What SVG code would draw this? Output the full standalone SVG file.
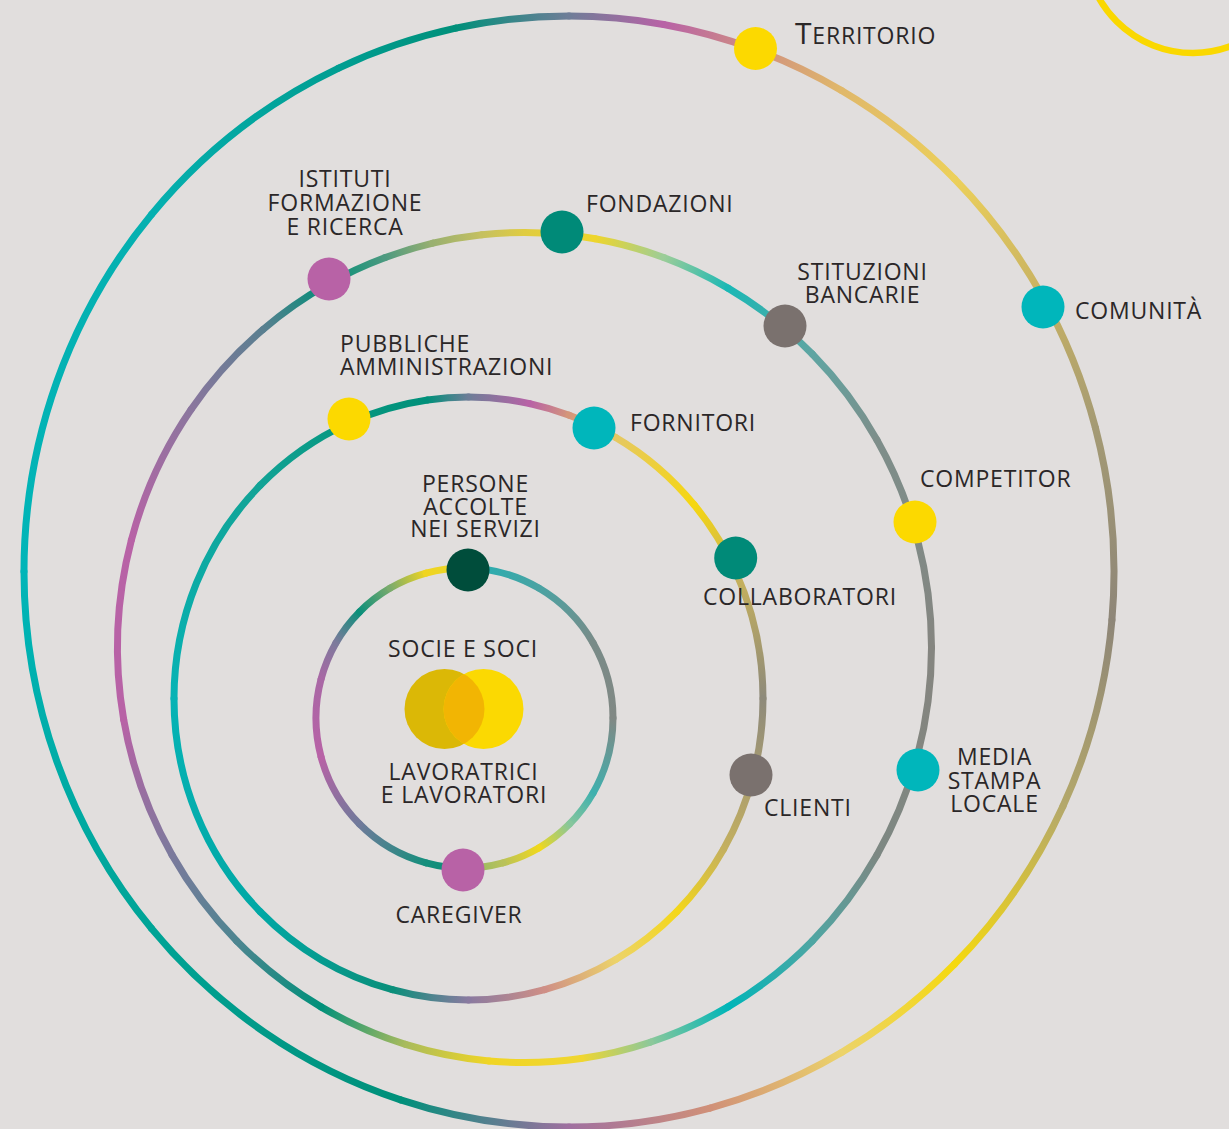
<svg xmlns="http://www.w3.org/2000/svg" width="1229" height="1129" viewBox="0 0 1229 1129">
<style>
.r path{fill:none;stroke-width:7;vector-effect:non-scaling-stroke;stroke-linecap:round}
text{font-family:"Open Sans","Noto Sans","Liberation Sans",sans-serif;font-size:23px;letter-spacing:0.8px;fill:#2b2728}
.m{text-anchor:middle}
.y{fill:#fcd900}.t{fill:#00b6bb}.g{fill:#008a78}.p{fill:#b862a6}.s{fill:#7a716e}.d{fill:#004d3b}
</style>
<defs>
<!-- ring 1 -->
<linearGradient id="a1" gradientUnits="userSpaceOnUse" x1="0" y1="-100" x2="50" y2="-86.6"><stop stop-color="#22b0b3"/><stop offset="1" stop-color="#4aa3a3"/></linearGradient>
<linearGradient id="a2" gradientUnits="userSpaceOnUse" x1="50" y1="-86.6" x2="86.6" y2="-50"><stop stop-color="#4aa3a3"/><stop offset="1" stop-color="#798b88"/></linearGradient>
<linearGradient id="a3" gradientUnits="userSpaceOnUse" x1="86.6" y1="-50" x2="100" y2="0"><stop stop-color="#798b88"/><stop offset="1" stop-color="#818884"/></linearGradient>
<linearGradient id="a4" gradientUnits="userSpaceOnUse" x1="100" y1="0" x2="86.6" y2="50"><stop stop-color="#818884"/><stop offset="1" stop-color="#3fb0ae"/></linearGradient>
<linearGradient id="a5" gradientUnits="userSpaceOnUse" x1="86.6" y1="50" x2="70.71" y2="70.71"><stop stop-color="#3fb0ae"/><stop offset="1" stop-color="#86c69c"/></linearGradient>
<linearGradient id="a6" gradientUnits="userSpaceOnUse" x1="70.71" y1="70.71" x2="50" y2="86.6"><stop stop-color="#86c69c"/><stop offset="1" stop-color="#f0d81c"/></linearGradient>
<linearGradient id="a7" gradientUnits="userSpaceOnUse" x1="50" y1="86.6" x2="25.88" y2="96.59"><stop stop-color="#f0d81c"/><stop offset="1" stop-color="#b9c25a"/></linearGradient>
<linearGradient id="a8" gradientUnits="userSpaceOnUse" x1="25.88" y1="96.59" x2="0" y2="100"><stop stop-color="#b9c25a"/><stop offset="1" stop-color="#8ab86a"/></linearGradient>
<linearGradient id="a9" gradientUnits="userSpaceOnUse" x1="0" y1="100" x2="-25.88" y2="96.59"><stop stop-color="#0a8f78"/><stop offset="1" stop-color="#148f7c"/></linearGradient>
<linearGradient id="a10" gradientUnits="userSpaceOnUse" x1="-25.88" y1="96.59" x2="-70.71" y2="70.71"><stop stop-color="#148f7c"/><stop offset="1" stop-color="#6f7a9a"/></linearGradient>
<linearGradient id="a11" gradientUnits="userSpaceOnUse" x1="-70.71" y1="70.71" x2="-96.59" y2="25.88"><stop stop-color="#6f7a9a"/><stop offset="1" stop-color="#b862a6"/></linearGradient>
<linearGradient id="a12" gradientUnits="userSpaceOnUse" x1="-96.59" y1="25.88" x2="-96.59" y2="-25.88"><stop stop-color="#b862a6"/><stop offset="1" stop-color="#a968a5"/></linearGradient>
<linearGradient id="a13" gradientUnits="userSpaceOnUse" x1="-96.59" y1="-25.88" x2="-86.6" y2="-50"><stop stop-color="#a968a5"/><stop offset="1" stop-color="#7e7a9c"/></linearGradient>
<linearGradient id="a14" gradientUnits="userSpaceOnUse" x1="-86.6" y1="-50" x2="-70.71" y2="-70.71"><stop stop-color="#7e7a9c"/><stop offset="1" stop-color="#0b8f7a"/></linearGradient>
<linearGradient id="a15" gradientUnits="userSpaceOnUse" x1="-70.71" y1="-70.71" x2="-50" y2="-86.6"><stop stop-color="#0b8f7a"/><stop offset="1" stop-color="#7aab6c"/></linearGradient>
<linearGradient id="a16" gradientUnits="userSpaceOnUse" x1="-50" y1="-86.6" x2="-25.88" y2="-96.59"><stop stop-color="#7aab6c"/><stop offset="1" stop-color="#f0d520"/></linearGradient>
<linearGradient id="a17" gradientUnits="userSpaceOnUse" x1="-25.88" y1="-96.59" x2="0" y2="-100"><stop stop-color="#f0d520"/><stop offset="1" stop-color="#e8d530"/></linearGradient>
<!-- ring 2 -->
<linearGradient id="b1" gradientUnits="userSpaceOnUse" x1="0" y1="-100" x2="20.79" y2="-97.81"><stop stop-color="#6e7d98"/><stop offset="1" stop-color="#b862a6"/></linearGradient>
<linearGradient id="b2" gradientUnits="userSpaceOnUse" x1="20.79" y1="-97.81" x2="34.2" y2="-93.97"><stop stop-color="#b862a6"/><stop offset="1" stop-color="#d4967a"/></linearGradient>
<linearGradient id="b3" gradientUnits="userSpaceOnUse" x1="34.2" y1="-93.97" x2="50" y2="-86.6"><stop stop-color="#d4967a"/><stop offset="1" stop-color="#e5c862"/></linearGradient>
<linearGradient id="b4" gradientUnits="userSpaceOnUse" x1="50" y1="-86.6" x2="76.6" y2="-64.28"><stop stop-color="#e5c862"/><stop offset="1" stop-color="#f6d70f"/></linearGradient>
<linearGradient id="b5" gradientUnits="userSpaceOnUse" x1="76.6" y1="-64.28" x2="90.63" y2="-42.26"><stop stop-color="#f6d70f"/><stop offset="1" stop-color="#c9b35a"/></linearGradient>
<linearGradient id="b6" gradientUnits="userSpaceOnUse" x1="90.63" y1="-42.26" x2="100" y2="0"><stop stop-color="#c9b35a"/><stop offset="1" stop-color="#8e8a7a"/></linearGradient>
<linearGradient id="b7" gradientUnits="userSpaceOnUse" x1="100" y1="0" x2="96.59" y2="25.88"><stop stop-color="#8e8a7a"/><stop offset="1" stop-color="#a89c70"/></linearGradient>
<linearGradient id="b8" gradientUnits="userSpaceOnUse" x1="96.59" y1="25.88" x2="86.6" y2="50"><stop stop-color="#a89c70"/><stop offset="1" stop-color="#c4b05e"/></linearGradient>
<linearGradient id="b9" gradientUnits="userSpaceOnUse" x1="86.6" y1="50" x2="70.71" y2="70.71"><stop stop-color="#c4b05e"/><stop offset="1" stop-color="#f4d71a"/></linearGradient>
<linearGradient id="b10" gradientUnits="userSpaceOnUse" x1="70.71" y1="70.71" x2="50" y2="86.6"><stop stop-color="#f4d71a"/><stop offset="1" stop-color="#ecd36a"/></linearGradient>
<linearGradient id="b11" gradientUnits="userSpaceOnUse" x1="50" y1="86.6" x2="25.88" y2="96.59"><stop stop-color="#ecd36a"/><stop offset="1" stop-color="#cf8f86"/></linearGradient>
<linearGradient id="b12" gradientUnits="userSpaceOnUse" x1="25.88" y1="96.59" x2="0" y2="100"><stop stop-color="#cf8f86"/><stop offset="1" stop-color="#8a7aa0"/></linearGradient>
<linearGradient id="b13" gradientUnits="userSpaceOnUse" x1="0" y1="100" x2="-25.88" y2="96.59"><stop stop-color="#8a7aa0"/><stop offset="1" stop-color="#0a8f7a"/></linearGradient>
<linearGradient id="b14" gradientUnits="userSpaceOnUse" x1="-25.88" y1="96.59" x2="-70.71" y2="70.71"><stop stop-color="#0a8f7a"/><stop offset="1" stop-color="#00a8a5"/></linearGradient>
<linearGradient id="b15" gradientUnits="userSpaceOnUse" x1="-70.71" y1="70.71" x2="-100" y2="0"><stop stop-color="#00a8a5"/><stop offset="1" stop-color="#06b3b5"/></linearGradient>
<linearGradient id="b16" gradientUnits="userSpaceOnUse" x1="-100" y1="0" x2="-70.71" y2="-70.71"><stop stop-color="#06b3b5"/><stop offset="1" stop-color="#12a396"/></linearGradient>
<linearGradient id="b17" gradientUnits="userSpaceOnUse" x1="-70.71" y1="-70.71" x2="-40.67" y2="-91.35"><stop stop-color="#12a396"/><stop offset="1" stop-color="#06977f"/></linearGradient>
<linearGradient id="b18" gradientUnits="userSpaceOnUse" x1="-40.67" y1="-91.35" x2="-13.92" y2="-99.03"><stop stop-color="#06977f"/><stop offset="1" stop-color="#00907a"/></linearGradient>
<linearGradient id="b19" gradientUnits="userSpaceOnUse" x1="-13.92" y1="-99.03" x2="0" y2="-100"><stop stop-color="#00907a"/><stop offset="1" stop-color="#6e7d98"/></linearGradient>
<!-- ring 3 -->
<linearGradient id="c1" gradientUnits="userSpaceOnUse" x1="0" y1="-100" x2="17.36" y2="-98.48"><stop stop-color="#e0cc40"/><stop offset="1" stop-color="#eed52c"/></linearGradient>
<linearGradient id="c2" gradientUnits="userSpaceOnUse" x1="17.36" y1="-98.48" x2="34.2" y2="-93.97"><stop stop-color="#eed52c"/><stop offset="1" stop-color="#9ccd98"/></linearGradient>
<linearGradient id="c3" gradientUnits="userSpaceOnUse" x1="34.2" y1="-93.97" x2="50" y2="-86.6"><stop stop-color="#9ccd98"/><stop offset="1" stop-color="#1ab8b5"/></linearGradient>
<linearGradient id="c4" gradientUnits="userSpaceOnUse" x1="50" y1="-86.6" x2="70.71" y2="-70.71"><stop stop-color="#1ab8b5"/><stop offset="1" stop-color="#5fa5a2"/></linearGradient>
<linearGradient id="c5" gradientUnits="userSpaceOnUse" x1="70.71" y1="-70.71" x2="86.6" y2="-50"><stop stop-color="#5fa5a2"/><stop offset="1" stop-color="#7e8e8a"/></linearGradient>
<linearGradient id="c6" gradientUnits="userSpaceOnUse" x1="86.6" y1="-50" x2="96.59" y2="-25.88"><stop stop-color="#7e8e8a"/><stop offset="1" stop-color="#808a86"/></linearGradient>
<linearGradient id="c7" gradientUnits="userSpaceOnUse" x1="96.59" y1="-25.88" x2="100" y2="0"><stop stop-color="#808a86"/><stop offset="1" stop-color="#858580"/></linearGradient>
<linearGradient id="c8" gradientUnits="userSpaceOnUse" x1="100" y1="0" x2="96.59" y2="25.88"><stop stop-color="#858580"/><stop offset="1" stop-color="#838680"/></linearGradient>
<linearGradient id="c9" gradientUnits="userSpaceOnUse" x1="96.59" y1="25.88" x2="86.6" y2="50"><stop stop-color="#838680"/><stop offset="1" stop-color="#7d8883"/></linearGradient>
<linearGradient id="c10" gradientUnits="userSpaceOnUse" x1="86.6" y1="50" x2="70.71" y2="70.71"><stop stop-color="#7d8883"/><stop offset="1" stop-color="#4fa6a3"/></linearGradient>
<linearGradient id="c11" gradientUnits="userSpaceOnUse" x1="70.71" y1="70.71" x2="50" y2="86.6"><stop stop-color="#4fa6a3"/><stop offset="1" stop-color="#00b5b8"/></linearGradient>
<linearGradient id="c12" gradientUnits="userSpaceOnUse" x1="50" y1="86.6" x2="30.9" y2="95.11"><stop stop-color="#00b5b8"/><stop offset="1" stop-color="#8cc89a"/></linearGradient>
<linearGradient id="c13" gradientUnits="userSpaceOnUse" x1="30.9" y1="95.11" x2="13.92" y2="99.03"><stop stop-color="#8cc89a"/><stop offset="1" stop-color="#f0d630"/></linearGradient>
<linearGradient id="c14" gradientUnits="userSpaceOnUse" x1="13.92" y1="99.03" x2="-8.72" y2="99.62"><stop stop-color="#f0d630"/><stop offset="1" stop-color="#f0d525"/></linearGradient>
<linearGradient id="c15" gradientUnits="userSpaceOnUse" x1="-8.72" y1="99.62" x2="-29.24" y2="95.63"><stop stop-color="#f0d525"/><stop offset="1" stop-color="#a9bb5c"/></linearGradient>
<linearGradient id="c16" gradientUnits="userSpaceOnUse" x1="-29.24" y1="95.63" x2="-50" y2="86.6"><stop stop-color="#a9bb5c"/><stop offset="1" stop-color="#00907a"/></linearGradient>
<linearGradient id="c17" gradientUnits="userSpaceOnUse" x1="-50" y1="86.6" x2="-70.71" y2="70.71"><stop stop-color="#00907a"/><stop offset="1" stop-color="#4d8590"/></linearGradient>
<linearGradient id="c18" gradientUnits="userSpaceOnUse" x1="-70.71" y1="70.71" x2="-86.6" y2="50"><stop stop-color="#4d8590"/><stop offset="1" stop-color="#7b7a9c"/></linearGradient>
<linearGradient id="c19" gradientUnits="userSpaceOnUse" x1="-86.6" y1="50" x2="-98.48" y2="17.36"><stop stop-color="#7b7a9c"/><stop offset="1" stop-color="#b862a6"/></linearGradient>
<linearGradient id="c20" gradientUnits="userSpaceOnUse" x1="-98.48" y1="17.36" x2="-96.59" y2="-25.88"><stop stop-color="#b862a6"/><stop offset="1" stop-color="#b862a6"/></linearGradient>
<linearGradient id="c21" gradientUnits="userSpaceOnUse" x1="-96.59" y1="-25.88" x2="-81.92" y2="-57.36"><stop stop-color="#b862a6"/><stop offset="1" stop-color="#8b769e"/></linearGradient>
<linearGradient id="c22" gradientUnits="userSpaceOnUse" x1="-81.92" y1="-57.36" x2="-64.28" y2="-76.6"><stop stop-color="#8b769e"/><stop offset="1" stop-color="#5a7f90"/></linearGradient>
<linearGradient id="c23" gradientUnits="userSpaceOnUse" x1="-64.28" y1="-76.6" x2="-48.48" y2="-87.46"><stop stop-color="#5a7f90"/><stop offset="1" stop-color="#008f78"/></linearGradient>
<linearGradient id="c24" gradientUnits="userSpaceOnUse" x1="-48.48" y1="-87.46" x2="-34.2" y2="-93.97"><stop stop-color="#008f78"/><stop offset="1" stop-color="#4d9a80"/></linearGradient>
<linearGradient id="c25" gradientUnits="userSpaceOnUse" x1="-34.2" y1="-93.97" x2="-22.5" y2="-97.44"><stop stop-color="#4d9a80"/><stop offset="1" stop-color="#99b070"/></linearGradient>
<linearGradient id="c26" gradientUnits="userSpaceOnUse" x1="-22.5" y1="-97.44" x2="-10.45" y2="-99.45"><stop stop-color="#99b070"/><stop offset="1" stop-color="#c5c060"/></linearGradient>
<linearGradient id="c27" gradientUnits="userSpaceOnUse" x1="-10.45" y1="-99.45" x2="0" y2="-100"><stop stop-color="#c5c060"/><stop offset="1" stop-color="#e0cc40"/></linearGradient>
<!-- ring 4 -->
<linearGradient id="d1" gradientUnits="userSpaceOnUse" x1="0" y1="-100" x2="17.36" y2="-98.48"><stop stop-color="#6f7d98"/><stop offset="1" stop-color="#b862a6"/></linearGradient>
<linearGradient id="d2" gradientUnits="userSpaceOnUse" x1="17.36" y1="-98.48" x2="34.2" y2="-93.97"><stop stop-color="#b862a6"/><stop offset="1" stop-color="#d09080"/></linearGradient>
<linearGradient id="d3" gradientUnits="userSpaceOnUse" x1="34.2" y1="-93.97" x2="50" y2="-86.6"><stop stop-color="#d09080"/><stop offset="1" stop-color="#e0b86a"/></linearGradient>
<linearGradient id="d4" gradientUnits="userSpaceOnUse" x1="50" y1="-86.6" x2="70.71" y2="-70.71"><stop stop-color="#e0b86a"/><stop offset="1" stop-color="#ecd05a"/></linearGradient>
<linearGradient id="d5" gradientUnits="userSpaceOnUse" x1="70.71" y1="-70.71" x2="86.6" y2="-50"><stop stop-color="#ecd05a"/><stop offset="1" stop-color="#c8b262"/></linearGradient>
<linearGradient id="d6" gradientUnits="userSpaceOnUse" x1="86.6" y1="-50" x2="96.59" y2="-25.88"><stop stop-color="#c8b262"/><stop offset="1" stop-color="#a49a74"/></linearGradient>
<linearGradient id="d7" gradientUnits="userSpaceOnUse" x1="96.59" y1="-25.88" x2="99.62" y2="8.72"><stop stop-color="#a49a74"/><stop offset="1" stop-color="#8e8678"/></linearGradient>
<linearGradient id="d8" gradientUnits="userSpaceOnUse" x1="99.62" y1="8.72" x2="90.63" y2="42.26"><stop stop-color="#8e8678"/><stop offset="1" stop-color="#b4a86a"/></linearGradient>
<linearGradient id="d9" gradientUnits="userSpaceOnUse" x1="90.63" y1="42.26" x2="70.71" y2="70.71"><stop stop-color="#b4a86a"/><stop offset="1" stop-color="#f5d90f"/></linearGradient>
<linearGradient id="d10" gradientUnits="userSpaceOnUse" x1="70.71" y1="70.71" x2="50" y2="86.6"><stop stop-color="#f5d90f"/><stop offset="1" stop-color="#ecd36a"/></linearGradient>
<linearGradient id="d11" gradientUnits="userSpaceOnUse" x1="50" y1="86.6" x2="25.88" y2="96.59"><stop stop-color="#ecd36a"/><stop offset="1" stop-color="#d09078"/></linearGradient>
<linearGradient id="d12" gradientUnits="userSpaceOnUse" x1="25.88" y1="96.59" x2="0" y2="100"><stop stop-color="#d09078"/><stop offset="1" stop-color="#a070a0"/></linearGradient>
<linearGradient id="d13" gradientUnits="userSpaceOnUse" x1="0" y1="100" x2="-30.9" y2="95.11"><stop stop-color="#a070a0"/><stop offset="1" stop-color="#00907a"/></linearGradient>
<linearGradient id="d14" gradientUnits="userSpaceOnUse" x1="-30.9" y1="95.11" x2="-76.6" y2="64.28"><stop stop-color="#00907a"/><stop offset="1" stop-color="#00a496"/></linearGradient>
<linearGradient id="d15" gradientUnits="userSpaceOnUse" x1="-76.6" y1="64.28" x2="-100" y2="0"><stop stop-color="#00a496"/><stop offset="1" stop-color="#00b5b8"/></linearGradient>
<linearGradient id="d16" gradientUnits="userSpaceOnUse" x1="-100" y1="0" x2="-76.6" y2="-64.28"><stop stop-color="#00b5b8"/><stop offset="1" stop-color="#05b0b0"/></linearGradient>
<linearGradient id="d17" gradientUnits="userSpaceOnUse" x1="-76.6" y1="-64.28" x2="-42.26" y2="-90.63"><stop stop-color="#05b0b0"/><stop offset="1" stop-color="#009e92"/></linearGradient>
<linearGradient id="d18" gradientUnits="userSpaceOnUse" x1="-42.26" y1="-90.63" x2="-20.79" y2="-97.81"><stop stop-color="#009e92"/><stop offset="1" stop-color="#00907a"/></linearGradient>
<linearGradient id="d19" gradientUnits="userSpaceOnUse" x1="-20.79" y1="-97.81" x2="0" y2="-100"><stop stop-color="#00907a"/><stop offset="1" stop-color="#6f7d98"/></linearGradient>
<clipPath id="vl"><circle cx="444.5" cy="709" r="40"/></clipPath>
</defs>
<rect width="1229" height="1129" fill="#e1dedd"/>
<circle cx="1193" cy="-55" r="108" fill="none" stroke="#fad800" stroke-width="6.5"/>
<g id="rings">
<g class="r" transform="translate(569 571.5) scale(5.45 5.555)">
<path stroke="url(#d1)" d="M0 -100A100 100 0 0 1 17.36 -98.48"/>
<path stroke="url(#d2)" d="M17.36 -98.48A100 100 0 0 1 34.2 -93.97"/>
<path stroke="url(#d3)" d="M34.2 -93.97A100 100 0 0 1 50 -86.6"/>
<path stroke="url(#d4)" d="M50 -86.6A100 100 0 0 1 70.71 -70.71"/>
<path stroke="url(#d5)" d="M70.71 -70.71A100 100 0 0 1 86.6 -50"/>
<path stroke="url(#d6)" d="M86.6 -50A100 100 0 0 1 96.59 -25.88"/>
<path stroke="url(#d7)" d="M96.59 -25.88A100 100 0 0 1 99.62 8.72"/>
<path stroke="url(#d8)" d="M99.62 8.72A100 100 0 0 1 90.63 42.26"/>
<path stroke="url(#d9)" d="M90.63 42.26A100 100 0 0 1 70.71 70.71"/>
<path stroke="url(#d10)" d="M70.71 70.71A100 100 0 0 1 50 86.6"/>
<path stroke="url(#d11)" d="M50 86.6A100 100 0 0 1 25.88 96.59"/>
<path stroke="url(#d12)" d="M25.88 96.59A100 100 0 0 1 0 100"/>
<path stroke="url(#d13)" d="M0 100A100 100 0 0 1 -30.9 95.11"/>
<path stroke="url(#d14)" d="M-30.9 95.11A100 100 0 0 1 -76.6 64.28"/>
<path stroke="url(#d15)" d="M-76.6 64.28A100 100 0 0 1 -100 0"/>
<path stroke="url(#d16)" d="M-100 0A100 100 0 0 1 -76.6 -64.28"/>
<path stroke="url(#d17)" d="M-76.6 -64.28A100 100 0 0 1 -42.26 -90.63"/>
<path stroke="url(#d18)" d="M-42.26 -90.63A100 100 0 0 1 -20.79 -97.81"/>
<path stroke="url(#d19)" d="M-20.79 -97.81A100 100 0 0 1 0 -100"/>
</g>
<g class="r" transform="translate(524.5 647.5) scale(4.07 4.15)">
<path stroke="url(#c1)" d="M0 -100A100 100 0 0 1 17.36 -98.48"/>
<path stroke="url(#c2)" d="M17.36 -98.48A100 100 0 0 1 34.2 -93.97"/>
<path stroke="url(#c3)" d="M34.2 -93.97A100 100 0 0 1 50 -86.6"/>
<path stroke="url(#c4)" d="M50 -86.6A100 100 0 0 1 70.71 -70.71"/>
<path stroke="url(#c5)" d="M70.71 -70.71A100 100 0 0 1 86.6 -50"/>
<path stroke="url(#c6)" d="M86.6 -50A100 100 0 0 1 96.59 -25.88"/>
<path stroke="url(#c7)" d="M96.59 -25.88A100 100 0 0 1 100 0"/>
<path stroke="url(#c8)" d="M100 0A100 100 0 0 1 96.59 25.88"/>
<path stroke="url(#c9)" d="M96.59 25.88A100 100 0 0 1 86.6 50"/>
<path stroke="url(#c10)" d="M86.6 50A100 100 0 0 1 70.71 70.71"/>
<path stroke="url(#c11)" d="M70.71 70.71A100 100 0 0 1 50 86.6"/>
<path stroke="url(#c12)" d="M50 86.6A100 100 0 0 1 30.9 95.11"/>
<path stroke="url(#c13)" d="M30.9 95.11A100 100 0 0 1 13.92 99.03"/>
<path stroke="url(#c14)" d="M13.92 99.03A100 100 0 0 1 -8.72 99.62"/>
<path stroke="url(#c15)" d="M-8.72 99.62A100 100 0 0 1 -29.24 95.63"/>
<path stroke="url(#c16)" d="M-29.24 95.63A100 100 0 0 1 -50 86.6"/>
<path stroke="url(#c17)" d="M-50 86.6A100 100 0 0 1 -70.71 70.71"/>
<path stroke="url(#c18)" d="M-70.71 70.71A100 100 0 0 1 -86.6 50"/>
<path stroke="url(#c19)" d="M-86.6 50A100 100 0 0 1 -98.48 17.36"/>
<path stroke="url(#c20)" d="M-98.48 17.36A100 100 0 0 1 -96.59 -25.88"/>
<path stroke="url(#c21)" d="M-96.59 -25.88A100 100 0 0 1 -81.92 -57.36"/>
<path stroke="url(#c22)" d="M-81.92 -57.36A100 100 0 0 1 -64.28 -76.6"/>
<path stroke="url(#c23)" d="M-64.28 -76.6A100 100 0 0 1 -48.48 -87.46"/>
<path stroke="url(#c24)" d="M-48.48 -87.46A100 100 0 0 1 -34.2 -93.97"/>
<path stroke="url(#c25)" d="M-34.2 -93.97A100 100 0 0 1 -22.5 -97.44"/>
<path stroke="url(#c26)" d="M-22.5 -97.44A100 100 0 0 1 -10.45 -99.45"/>
<path stroke="url(#c27)" d="M-10.45 -99.45A100 100 0 0 1 0 -100"/>
</g>
<g class="r" transform="translate(468.5 698.5) scale(2.945 3.015)">
<path stroke="url(#b1)" d="M0 -100A100 100 0 0 1 20.79 -97.81"/>
<path stroke="url(#b2)" d="M20.79 -97.81A100 100 0 0 1 34.2 -93.97"/>
<path stroke="url(#b3)" d="M34.2 -93.97A100 100 0 0 1 50 -86.6"/>
<path stroke="url(#b4)" d="M50 -86.6A100 100 0 0 1 76.6 -64.28"/>
<path stroke="url(#b5)" d="M76.6 -64.28A100 100 0 0 1 90.63 -42.26"/>
<path stroke="url(#b6)" d="M90.63 -42.26A100 100 0 0 1 100 0"/>
<path stroke="url(#b7)" d="M100 0A100 100 0 0 1 96.59 25.88"/>
<path stroke="url(#b8)" d="M96.59 25.88A100 100 0 0 1 86.6 50"/>
<path stroke="url(#b9)" d="M86.6 50A100 100 0 0 1 70.71 70.71"/>
<path stroke="url(#b10)" d="M70.71 70.71A100 100 0 0 1 50 86.6"/>
<path stroke="url(#b11)" d="M50 86.6A100 100 0 0 1 25.88 96.59"/>
<path stroke="url(#b12)" d="M25.88 96.59A100 100 0 0 1 0 100"/>
<path stroke="url(#b13)" d="M0 100A100 100 0 0 1 -25.88 96.59"/>
<path stroke="url(#b14)" d="M-25.88 96.59A100 100 0 0 1 -70.71 70.71"/>
<path stroke="url(#b15)" d="M-70.71 70.71A100 100 0 0 1 -100 0"/>
<path stroke="url(#b16)" d="M-100 0A100 100 0 0 1 -70.71 -70.71"/>
<path stroke="url(#b17)" d="M-70.71 -70.71A100 100 0 0 1 -40.67 -91.35"/>
<path stroke="url(#b18)" d="M-40.67 -91.35A100 100 0 0 1 -13.92 -99.03"/>
<path stroke="url(#b19)" d="M-13.92 -99.03A100 100 0 0 1 0 -100"/>
</g>
<g class="r" transform="translate(464.5 718) scale(1.485 1.5)">
<path stroke="url(#a1)" d="M0 -100A100 100 0 0 1 50 -86.6"/>
<path stroke="url(#a2)" d="M50 -86.6A100 100 0 0 1 86.6 -50"/>
<path stroke="url(#a3)" d="M86.6 -50A100 100 0 0 1 100 0"/>
<path stroke="url(#a4)" d="M100 0A100 100 0 0 1 86.6 50"/>
<path stroke="url(#a5)" d="M86.6 50A100 100 0 0 1 70.71 70.71"/>
<path stroke="url(#a6)" d="M70.71 70.71A100 100 0 0 1 50 86.6"/>
<path stroke="url(#a7)" d="M50 86.6A100 100 0 0 1 25.88 96.59"/>
<path stroke="url(#a8)" d="M25.88 96.59A100 100 0 0 1 0 100"/>
<path stroke="url(#a9)" d="M0 100A100 100 0 0 1 -25.88 96.59"/>
<path stroke="url(#a10)" d="M-25.88 96.59A100 100 0 0 1 -70.71 70.71"/>
<path stroke="url(#a11)" d="M-70.71 70.71A100 100 0 0 1 -96.59 25.88"/>
<path stroke="url(#a12)" d="M-96.59 25.88A100 100 0 0 1 -96.59 -25.88"/>
<path stroke="url(#a13)" d="M-96.59 -25.88A100 100 0 0 1 -86.6 -50"/>
<path stroke="url(#a14)" d="M-86.6 -50A100 100 0 0 1 -70.71 -70.71"/>
<path stroke="url(#a15)" d="M-70.71 -70.71A100 100 0 0 1 -50 -86.6"/>
<path stroke="url(#a16)" d="M-50 -86.6A100 100 0 0 1 -25.88 -96.59"/>
<path stroke="url(#a17)" d="M-25.88 -96.59A100 100 0 0 1 0 -100"/>
</g>
</g>
<g id="territorio"><circle class="y" cx="755.5" cy="48.5" r="21.5"/><text x="795" y="44"><tspan font-size="30">T</tspan><tspan font-size="23">ERRITORIO</tspan></text></g>
<g id="comunita"><circle class="t" cx="1043" cy="307" r="21.5"/><text x="1075" y="319">COMUNITÀ</text></g>
<g id="istituti"><circle class="p" cx="329" cy="279" r="21.5"/><text class="m" x="345" y="187">ISTITUTI</text><text class="m" x="345" y="211">FORMAZIONE</text><text class="m" x="345" y="234.5">E RICERCA</text></g>
<g id="fondazioni"><circle class="g" cx="562" cy="232" r="21.5"/><text x="586" y="212">FONDAZIONI</text></g>
<g id="bancarie"><circle class="s" cx="785" cy="326" r="21.5"/><text class="m" x="862.5" y="279.5">STITUZIONI</text><text class="m" x="862.5" y="302.5">BANCARIE</text></g>
<g id="competitor"><circle class="y" cx="915" cy="522" r="21.5"/><text x="920" y="487">COMPETITOR</text></g>
<g id="media"><circle class="t" cx="918" cy="770" r="21.5"/><text class="m" x="994.5" y="764.5">MEDIA</text><text class="m" x="994.5" y="788.5">STAMPA</text><text class="m" x="994.5" y="812">LOCALE</text></g>
<g id="pa"><circle class="y" cx="349" cy="419" r="21.5"/><text x="340" y="352">PUBBLICHE</text><text x="340" y="375">AMMINISTRAZIONI</text></g>
<g id="fornitori"><circle class="t" cx="594" cy="428" r="21.5"/><text x="630" y="431">FORNITORI</text></g>
<g id="collaboratori"><circle class="g" cx="735.7" cy="558" r="21.5"/><text x="703" y="605">COLLABORATORI</text></g>
<g id="clienti"><circle class="s" cx="751" cy="775" r="21.5"/><text x="764" y="816">CLIENTI</text></g>
<g id="persone"><circle class="d" cx="468" cy="570" r="21.5"/><text class="m" x="475.5" y="492">PERSONE</text><text class="m" x="475.5" y="514.5">ACCOLTE</text><text class="m" x="475.5" y="537">NEI SERVIZI</text></g>
<g id="caregiver"><circle class="p" cx="463" cy="870" r="21.5"/><text class="m" x="459" y="923">CAREGIVER</text></g>
<g id="soci">
<circle cx="444.5" cy="709" r="40" fill="#dbb806"/>
<circle cx="483.5" cy="709" r="40" fill="#fbd902"/>
<circle cx="483.5" cy="709" r="40" fill="#f2b503" clip-path="url(#vl)"/>
<text class="m" x="463" y="657">SOCIE E SOCI</text>
<text class="m" x="463.5" y="779.5">LAVORATRICI</text>
<text class="m" x="464" y="803">E LAVORATORI</text>
</g>
</svg>
